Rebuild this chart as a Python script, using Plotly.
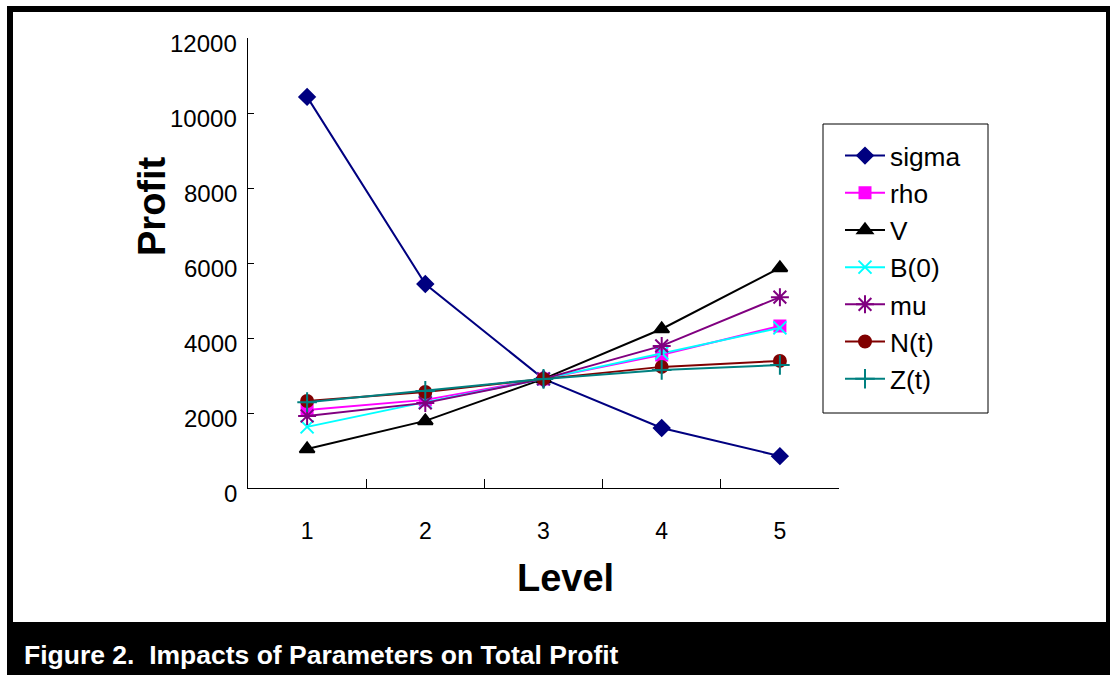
import plotly.graph_objects as go

levels = ["1", "2", "3", "4", "5"]
series_names = ["sigma", "rho", "V", "B(0)", "mu", "N(t)", "Z(t)"]
sigma = [10430, 5440, 2910, 1600, 850]
rho = [2080, 2350, 2910, 3550, 4320]
V = [1040, 1790, 2910, 4240, 5870]
B0 = [1630, 2290, 2910, 3600, 4270]
mu = [1920, 2270, 2910, 3790, 5090]
Nt = [2320, 2560, 2910, 3230, 3390]
Zt = [2290, 2590, 2910, 3150, 3280]
y_ticks = [0, 2000, 4000, 6000, 8000, 10000, 12000]

data = [sigma, rho, V, B0, mu, Nt, Zt]
colors = ["#000080", "#FF00FF", "#000000", "#00FFFF", "#800080", "#800000", "#008080"]
symbols = ["diamond", "square", "triangle-up", "x-thin-open", "asterisk-open", "circle", "cross-thin-open"]
sizes = [12, 11, 13, 13, 15, 12, 14]

FONT = "Liberation Sans, Arial, sans-serif"

fig = go.Figure()
for name, vals, c, s, sz in zip(series_names, data, colors, symbols, sizes):
    fig.add_trace(go.Scatter(
        x=levels, y=vals, name=name, mode="lines+markers",
        line=dict(color=c, width=2),
        marker=dict(symbol=s, size=sz, color=c, line=dict(color=c, width=2)),
    ))

# plot area in pixels
L, R, T, B = 248, 839, 38, 488
W, H = 1111, 675
def px(x):
    return (x - L) / (R - L)
def py(y):
    return (B - y) / (B - T)

shapes = [
    dict(type="rect", xref="paper", yref="paper", x0=px(7), x1=px(1110), y0=py(675), y1=py(6),
         fillcolor="black", line=dict(width=0), layer="below"),
    dict(type="rect", xref="paper", yref="paper", x0=px(13), x1=px(1106), y0=py(622), y1=py(12),
         fillcolor="white", line=dict(width=0), layer="below"),
    # legend frame
    dict(type="rect", xref="paper", yref="paper", x0=px(823), x1=px(988), y0=py(413), y1=py(124),
         fillcolor="rgba(0,0,0,0)", line=dict(color="black", width=1), layer="above"),
]

annotations = [
    dict(text="<b>Figure 2.  Impacts of Parameters on Total Profit</b>",
         xref="paper", yref="paper", x=px(22), y=py(655), xanchor="left", yanchor="middle",
         showarrow=False, font=dict(family=FONT, size=26.5, color="white")),
    dict(text="<b>Level</b>", xref="paper", yref="paper", x=px(565), y=py(578),
         xanchor="center", yanchor="middle", showarrow=False,
         font=dict(family=FONT, size=38, color="black")),
    dict(text="<b>Profit</b>", xref="paper", yref="paper", x=px(152), y=py(206),
         xanchor="center", yanchor="middle", showarrow=False, textangle=-90,
         font=dict(family=FONT, size=38, color="black")),
]
# y tick labels (sit slightly below their ticks, as in the original)
for v in y_ticks:
    annotations.append(dict(
        text=str(v), xref="paper", yref="y", x=px(239), y=v, yshift=-5,
        xanchor="right", yanchor="middle", showarrow=False,
        font=dict(family=FONT, size=24, color="black")))

fig.update_layout(
    width=W, height=H,
    margin=dict(l=L, r=W - R, t=T, b=H - B),
    paper_bgcolor="white", plot_bgcolor="rgba(0,0,0,0)",
    font=dict(family=FONT, color="black", size=22),
    shapes=shapes,
    annotations=annotations,
    showlegend=True,
    legend=dict(
        x=px(840), y=py(132), xanchor="left", yanchor="top",
        borderwidth=0, bgcolor="rgba(0,0,0,0)",
        font=dict(family=FONT, size=26.3, color="black"),
        itemwidth=40,
    ),
    xaxis=dict(
        type="category", range=[-0.5, 4.5], tickson="boundaries",
        ticks="inside", ticklen=9, tickcolor="black", tickwidth=1,
        showline=True, linecolor="black", linewidth=1, showgrid=False, zeroline=False,
        tickfont=dict(family=FONT, size=23, color="black"),
        ticklabelstandoff=22,
    ),
    yaxis=dict(
        range=[0, 12000], tickvals=y_ticks, showticklabels=False,
        ticks="inside", ticklen=6, tickcolor="black", tickwidth=1,
        showline=True, linecolor="black", linewidth=1, showgrid=False, zeroline=False,
    ),
)

fig.write_html("out.html")
